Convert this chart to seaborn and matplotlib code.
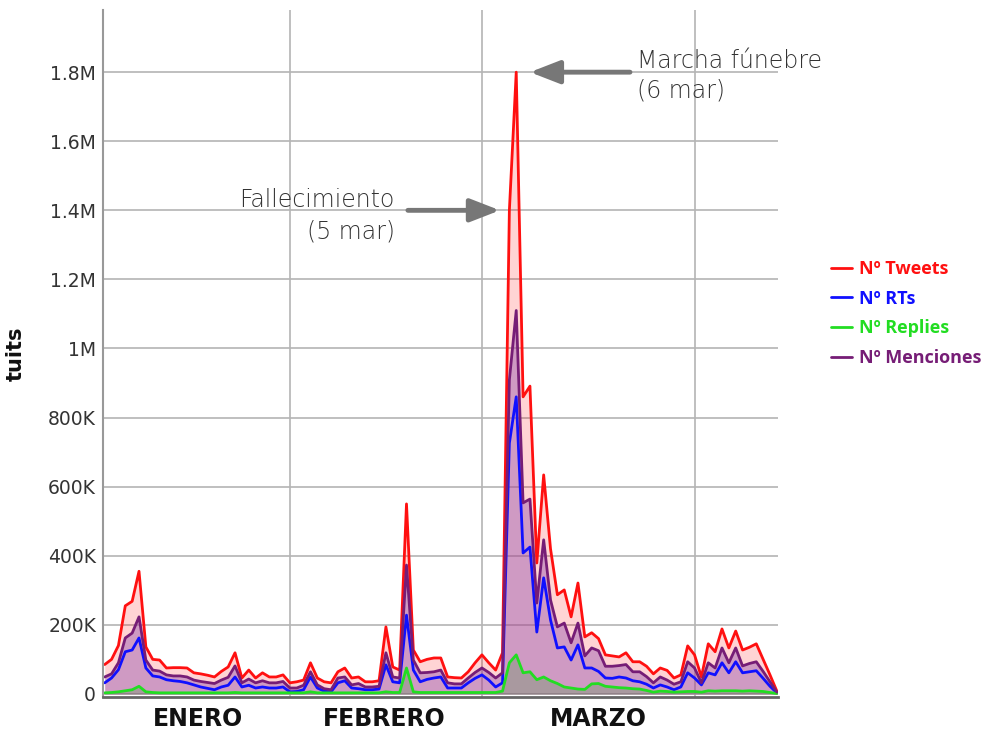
import pandas as pd
import seaborn as sns
import matplotlib.pyplot as plt
import matplotlib.dates as mdates
from matplotlib.ticker import FuncFormatter, FixedLocator

# ----------------------------------------
# Datos (miles de tuits por día)
# ----------------------------------------
fechas = pd.date_range('2013-01-05', periods=99, freq='D')

tweets = [85, 100, 140, 255, 268, 355, 136, 100, 98, 75,
          76, 76, 75, 61, 58, 54, 49, 65, 78, 119,
          46, 69, 46, 61, 49, 49, 55, 32, 35, 40,
          90, 46, 35, 32, 64, 75, 46, 49, 35, 35,
          38, 194, 78, 69, 550, 127, 93, 100, 104, 104,
          49, 47, 46, 64, 90, 113, 90, 69, 119, 1400,
          1800, 860, 891, 379, 634, 420, 287, 301, 223, 321,
          165, 177, 160, 113, 110, 107, 119, 93, 93, 80,
          58, 75, 68, 46, 55, 139, 113, 49, 145, 122,
          188, 133, 182, 127, 135, 145, 100, 55, 8]

menciones = [49, 58, 90, 162, 176, 223, 98, 69, 66, 55,
             52, 52, 49, 40, 36, 33, 30, 40, 48, 81,
             32, 43, 32, 38, 32, 32, 36, 17, 17, 25,
             64, 26, 15, 12, 46, 49, 26, 30, 20, 20,
             22, 119, 49, 46, 373, 98, 61, 62, 64, 69,
             32, 29, 29, 46, 62, 75, 62, 46, 61, 909,
             1110, 553, 564, 263, 446, 272, 194, 205, 148, 205,
             110, 133, 125, 80, 80, 82, 85, 64, 64, 50,
             32, 49, 40, 28, 35, 93, 75, 32, 90, 75,
             133, 90, 133, 81, 88, 93, 65, 35, 5]

rts = [32, 46, 70, 122, 127, 162, 75, 52, 49, 41,
       38, 36, 32, 26, 20, 16, 12, 20, 25, 49,
       20, 25, 17, 20, 17, 17, 20, 6, 7, 12,
       49, 17, 8, 6, 32, 38, 17, 15, 12, 12,
       14, 84, 35, 32, 228, 69, 35, 42, 46, 49,
       17, 17, 17, 32, 45, 55, 40, 20, 32, 726,
       860, 408, 425, 179, 336, 214, 133, 136, 98, 142,
       75, 75, 65, 46, 45, 49, 46, 38, 35, 28,
       17, 26, 20, 12, 20, 61, 46, 26, 61, 55,
       90, 61, 93, 61, 64, 67, 45, 22, 3]

replies = [3, 4, 6, 9, 12, 22, 6, 4, 3, 3,
           3, 3, 3, 3, 3, 3, 3, 3, 3, 4,
           3, 3, 3, 3, 3, 3, 3, 3, 3, 3,
           6, 3, 3, 3, 3, 3, 3, 3, 3, 3,
           3, 6, 4, 4, 75, 6, 4, 4, 4, 4,
           4, 4, 4, 4, 4, 4, 4, 4, 8, 90,
           113, 61, 64, 41, 49, 38, 30, 20, 17, 14,
           13, 29, 30, 22, 20, 18, 17, 15, 14, 10,
           5, 8, 7, 5, 6, 7, 7, 5, 9, 8,
           9, 9, 9, 8, 9, 8, 7, 4, 1]

meses = ['ENERO', 'FEBRERO', 'MARZO']
centro_meses = pd.to_datetime(['2013-01-18 14:00', '2013-02-14 19:00', '2013-03-17 22:00'])
inicio_meses = pd.to_datetime(['2013-02-01', '2013-03-01', '2013-04-01'])

df = pd.DataFrame({'fecha': fechas,
                   'tweets': [v * 1000 for v in tweets],
                   'rts': [v * 1000 for v in rts],
                   'replies': [v * 1000 for v in replies],
                   'menciones': [v * 1000 for v in menciones]})

# ----------------------------------------
# Estilo
# ----------------------------------------
sns.set_style('white')
plt.rcParams['font.family'] = ['DejaVu Sans']

fig = plt.figure(figsize=(9.91, 7.29), dpi=100)
ax = fig.add_axes([103 / 991, 32 / 729, 675 / 991, 687 / 729])

# áreas
ax.fill_between(df['fecha'], df['tweets'], color='#ff0000', alpha=0.17, lw=0)
ax.fill_between(df['fecha'], df['menciones'], color='#9555b0', alpha=0.45, lw=0)
ax.fill_between(df['fecha'], df['replies'], color='#009900', alpha=0.18, lw=0)

series = [('tweets', 'Nº Tweets', '#ff1010'),
          ('rts', 'Nº RTs', '#1010ff'),
          ('replies', 'Nº Replies', '#22dd22'),
          ('menciones', 'Nº Menciones', '#761d76')]
for col, nombre, color in series:
    sns.lineplot(data=df, x='fecha', y=col, color=color, lw=2, label=nombre, ax=ax, legend=False)

# ejes
ax.set_ylim(-9000, 1.98e6)
ax.set_xlim(fechas[0] - pd.Timedelta(hours=6), fechas[-1] + pd.Timedelta(hours=4))
ax.set_yticks([0, 200e3, 400e3, 600e3, 800e3, 1e6, 1.2e6, 1.4e6, 1.6e6, 1.8e6])


def fmt(v, pos):
    if v == 0:
        return '0'
    if v < 1e6:
        return f'{int(round(v / 1000))}K'
    return f'{v / 1e6:g}M'


ax.yaxis.set_major_formatter(FuncFormatter(fmt))
ax.xaxis.set_major_locator(FixedLocator(mdates.date2num(inicio_meses)))
ax.xaxis.set_minor_locator(FixedLocator(mdates.date2num(centro_meses)))
ax.set_xticklabels([])
ax.set_xticklabels(meses, minor=True)
ax.tick_params(axis='x', which='both', length=0)
ax.tick_params(axis='x', which='minor', pad=7, labelsize=17, labelcolor='#111')
for t in ax.get_xticklabels(minor=True):
    t.set_fontweight('bold')
ax.tick_params(axis='y', length=0, pad=5, labelsize=13.5, labelcolor='#333')

ax.grid(True, which='major', color='#b4b4b4', lw=1.2)
ax.set_axisbelow(True)
for s in ['top', 'right']:
    ax.spines[s].set_visible(False)
ax.spines['left'].set_color('#999999')
ax.spines['left'].set_linewidth(1.5)
ax.spines['bottom'].set_color('#666666')
ax.spines['bottom'].set_linewidth(2)

ax.set_xlabel('')
ax.set_ylabel('tuits', fontsize=15, fontweight='bold', color='#111')
ax.yaxis.set_label_coords(-0.114, 0.5)

# anotaciones
flecha = dict(arrowstyle='-|>,head_length=0.9,head_width=0.35', color='#777777', lw=3.5,
              mutation_scale=20, shrinkA=0, shrinkB=0)
ax.annotate('', xy=(pd.Timestamp('2013-03-08'), 1.8e6), xytext=(pd.Timestamp('2013-03-22 14:00'), 1.8e6),
            arrowprops=flecha)
ax.text(pd.Timestamp('2013-03-23 14:00'), 1.79e6, 'Marcha fúnebre\n(6 mar)', ha='left', va='center',
        fontsize=17, color='#333333', fontweight='light', linespacing=1.3)
ax.annotate('', xy=(pd.Timestamp('2013-03-03 15:00'), 1.4e6), xytext=(pd.Timestamp('2013-02-18 05:00'), 1.4e6),
            arrowprops=flecha)
ax.text(pd.Timestamp('2013-02-16 07:00'), 1.385e6, 'Fallecimiento\n(5 mar)', ha='right', va='center',
        fontsize=17, color='#333333', fontweight='light', linespacing=1.4, multialignment='right')

# leyenda
leg = fig.legend(handles=ax.get_lines()[:4], loc='upper left', bbox_to_anchor=(831 / 991, 1 - 260 / 729),
                 frameon=False, labelcolor='linecolor', handlelength=1.15, handletextpad=0.4,
                 borderaxespad=0, borderpad=0, labelspacing=0.65,
                 prop={'family': 'Open Sans', 'weight': 'bold', 'size': 13})

fig.savefig('out.png', dpi=100)
